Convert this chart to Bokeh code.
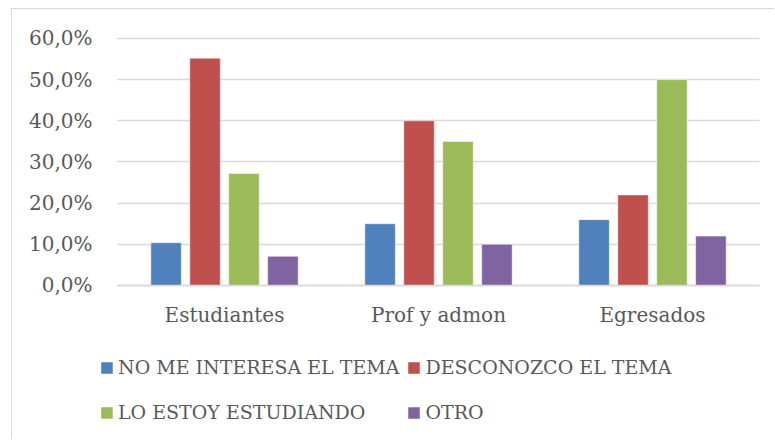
from bokeh.plotting import figure
from bokeh.models import (ColumnDataSource, FactorRange, FixedTicker, Legend,
                          LegendItem)
from bokeh.transform import dodge
from bokeh.embed import file_html
from bokeh.resources import INLINE

categories = ["Estudiantes", "Prof y admon", "Egresados"]
series_names = ["NO ME INTERESA EL TEMA", "DESCONOZCO EL TEMA",
                "LO ESTOY ESTUDIANDO", "OTRO"]
no_me_interesa = [10.4, 15.0, 16.0]
desconozco = [55.2, 40.0, 22.0]
lo_estoy = [27.2, 35.0, 50.0]
otro = [7.1, 10.0, 12.0]
y_ticks = [0, 10, 20, 30, 40, 50, 60]
y_tick_labels = ["0,0%", "10,0%", "20,0%", "30,0%", "40,0%", "50,0%", "60,0%"]

colors = ["#4F81BD", "#C0504D", "#9BBB59", "#8064A2"]
FONT = "DejaVu Serif"
TXT = "#595959"
GRID = "#D9D9D9"

source = ColumnDataSource(dict(cat=categories, s0=no_me_interesa, s1=desconozco,
                               s2=lo_estoy, s3=otro))

# frame covers the whole lower/left area so that the legend can sit inside it
x_range = FactorRange(factors=categories, range_padding=0.0748,
                      range_padding_units="absolute")
p = figure(x_range=x_range, y_range=(-37.65, 67.04), width=763, height=431,
           output_backend="svg", toolbar_location=None,
           min_border_left=89, min_border_right=0,
           min_border_top=0, min_border_bottom=0)
p.margin = (8, 0, 0, 11)
p.styles = {"border-top": "1px solid #D9D9D9", "border-left": "1px solid #D9D9D9"}

offsets = [-0.273, -0.091, 0.091, 0.273]
bar_w = 0.1425
renderers = []
for i, key in enumerate(["s0", "s1", "s2", "s3"]):
    r = p.vbar(x=dodge("cat", offsets[i], range=p.x_range), top=key, width=bar_w,
               source=source, fill_color=colors[i], line_color="white",
               line_width=0.8, line_alpha=0.6)
    renderers.append(r)

p.outline_line_color = None
p.xgrid.grid_line_color = None
p.ygrid.grid_line_color = GRID
p.ygrid.grid_line_width = 1.3
p.ygrid.cross_bounds = (0, len(categories))

p.yaxis.ticker = FixedTicker(ticks=y_ticks)
p.yaxis.major_label_overrides = {t: l for t, l in zip(y_ticks, y_tick_labels)}
p.yaxis.axis_line_color = None
p.yaxis.major_tick_line_color = None
p.yaxis.minor_tick_line_color = None
p.yaxis.major_label_standoff = 3
p.yaxis.major_label_text_font = FONT
p.yaxis.major_label_text_font_size = "20px"
p.yaxis.major_label_text_color = TXT

p.xaxis.fixed_location = 0
p.xaxis.bounds = (0, len(categories))
p.xaxis.axis_line_color = GRID
p.xaxis.axis_line_width = 1.3
p.xaxis.major_tick_line_color = None
p.xaxis.minor_tick_line_color = None
p.xaxis.major_label_standoff = 12
p.xaxis.major_label_text_font = FONT
p.xaxis.major_label_text_font_size = "20px"
p.xaxis.major_label_text_color = TXT

order = [0, 2, 1, 3]  # legend fills column by column
legend = Legend(items=[LegendItem(label=series_names[i], renderers=[renderers[i]])
                       for i in order],
                ncols=2, location=(-2, 9), padding=0, margin=0,
                border_line_color=None, background_fill_alpha=0,
                glyph_width=15, glyph_height=15, label_standoff=4,
                label_height=38, spacing=7,
                label_text_font=FONT, label_text_font_size="19px",
                label_text_color=TXT)
p.add_layout(legend, "center")

open("out.html", "w").write(file_html(p, INLINE))
